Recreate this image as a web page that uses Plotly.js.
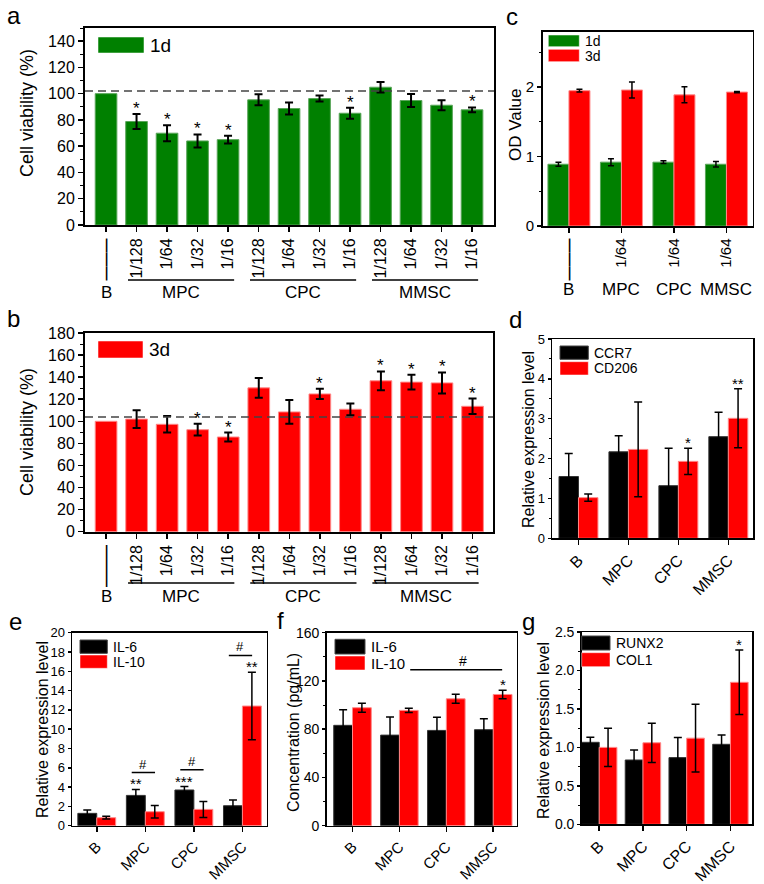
<!DOCTYPE html>
<html><head><meta charset="utf-8">
<script src="https://cdn.plot.ly/plotly-3.0.1.min.js"></script>
<style>html,body{margin:0;padding:0;background:#fff}#chart{width:764px;height:884px}</style>
</head><body><div id="chart"></div>
<script>
// ---------------- data ----------------
const doseCats = ['B','MPC 1/128','MPC 1/64','MPC 1/32','MPC 1/16','CPC 1/128','CPC 1/64','CPC 1/32','CPC 1/16','MMSC 1/128','MMSC 1/64','MMSC 1/32','MMSC 1/16'];
const doseTicks = ['———','1/128','1/64','1/32','1/16','1/128','1/64','1/32','1/16','1/128','1/64','1/32','1/16'];
const doseGroups = ['MPC','CPC','MMSC'];
const doseGroupIdx = [[1,4],[5,8],[9,12]];
const via1d    = [100,78.8,69.9,64,65,95.3,88.7,96.3,85.1,104.9,94.8,91.2,87.7];
const via1dErr = [null,5.7,6.1,5,3,4.2,4.6,2.3,4.2,4,5,3.8,1.8];
const via1dSig = ['','*','*','*','*','','','','*','','','','*'];
const via1dRef = 102;
const via3d    = [100,102,97.3,92.4,85.8,130.3,108.5,124.8,110.9,136.7,135.5,134.8,113.6];
const via3dErr = [null,8,7.5,5.3,4,9,10.7,4.7,5.3,8.5,6.7,9.5,7];
const via3dSig = ['','','','*','*','','','*','','*','*','*','*'];
const via3dRef = 104;

const cellCats = ['B','MPC','CPC','MMSC'];
const odTicks = ['———','1/64','1/64','1/64'];
const od1d = [0.89,0.92,0.92,0.89];
const od1dErr = [0.03,0.05,0.02,0.04];
const od3d = [1.95,1.96,1.89,1.93];
const od3dErr = [0.02,0.115,0.115,0.01];

const ccr7 = [1.55,2.17,1.32,2.55];
const ccr7Err = [0.58,0.4,0.94,0.61];
const cd206 = [1.02,2.23,1.93,3.01];
const cd206Err = [0.09,1.19,0.33,0.74];
const cd206Sig = ['','','*','**'];

const il6Gene = [1.28,3.14,3.7,2.07];
const il6GeneErr = [0.35,0.62,0.35,0.59];
const il6GeneSig = ['','**','***',''];
const il10Gene = [0.83,1.45,1.69,12.4];
const il10GeneErr = [0.14,0.64,0.83,3.49];
const il10GeneSig = ['','','','**'];
const geneHash = ['','#','#','#'];

const il6Conc = [83.2,75.1,79,79.6];
const il6ConcErr = [13,15,11,9];
const il10Conc = [97.8,95.6,105.2,108.8];
const il10ConcErr = [3.7,1.7,3.7,3.5];
const il10ConcSig = ['','','','*'];
const concHashSpan = ['MPC','MMSC'];

const runx2 = [1.066,0.836,0.867,1.04];
const runx2Err = [0.065,0.13,0.26,0.12];
const col1 = [1.0,1.06,1.12,1.846];
const col1Err = [0.25,0.255,0.44,0.42];
const col1Sig = ['','','','*'];

// ---------------- layout helpers ----------------
const W=764,H=884;
const fx=p=>p/W, fy=p=>1-p/H;
const FONT='"Liberation Sans", Arial, Helvetica, sans-serif';
const GREEN='#008000', RED='#ff0000', BLACK='#000000';
const layout={width:W,height:H,margin:{l:0,r:0,t:0,b:0},paper_bgcolor:'#fff',plot_bgcolor:'#fff',
  showlegend:false,barmode:'overlay',font:{family:FONT,color:'#000'},annotations:[],shapes:[]};
const data=[];
function ids(n){return {xa:n===1?'x':'x'+n, ya:n===1?'y':'y'+n, xs:n===1?'xaxis':'xaxis'+n, ys:n===1?'yaxis':'yaxis'+n};}
function axes(n,xpx,ypx,xo,yo,lw){
  const I=ids(n); lw=lw||1.5;
  layout[I.xs]=Object.assign({domain:[fx(xpx[0]),fx(xpx[1])],anchor:I.ya,type:'category',showline:true,mirror:true,
    linecolor:'#000',linewidth:lw,ticks:'outside',ticklen:5,tickwidth:1.5,tickcolor:'#000',showgrid:false,zeroline:false,
    fixedrange:true},xo);
  layout[I.ys]=Object.assign({domain:[fy(ypx[1]),fy(ypx[0])],anchor:I.xa,showline:true,mirror:true,linecolor:'#000',
    linewidth:lw,ticks:'outside',ticklen:5,tickwidth:1.5,tickcolor:'#000',showgrid:false,zeroline:false,fixedrange:true},yo);
  return I;
}
function A(x,y,text,size,o){layout.annotations.push(Object.assign({xref:'paper',yref:'paper',x:fx(x),y:fy(y),text:text,
  showarrow:false,font:{size:size,family:FONT,color:'#000'},xanchor:'center',yanchor:'middle'},o||{}));}
function legendBox(x0,y0,x1,y1,color,label,size){
  layout.shapes.push({type:'rect',xref:'paper',yref:'paper',x0:fx(x0),x1:fx(x1),y0:fy(y1),y1:fy(y0),fillcolor:color,
    line:{color:color==='#000000'?'#444':'rgba(255,255,255,0.5)',width:1}});
  A(x1+4,(y0+y1)/2,label,size,{xanchor:'left'});
}
function lineColor(c){return c===GREEN?'#5aa55a':(c===RED?'#ff8888':'#333');}
function bar(I,cats,vals,errs,color,width,offset,errW,capW){
  const t={type:'bar',x:cats,y:vals,xaxis:I.xa,yaxis:I.ya,width:width,marker:{color:color,line:{color:lineColor(color),width:1}},
    error_y:{type:'data',array:errs.map(v=>v==null?NaN:v),visible:true,color:'#000',thickness:errW||1.5,width:capW||4},hoverinfo:'skip'};
  if(offset!==undefined) t.offset=offset;
  data.push(t);
}
function stars(I,vals,errs,sig,dx,size,shift){
  sig.forEach((s,i)=>{ if(!s) return;
    layout.annotations.push({xref:I.xa,yref:I.ya,x:i+dx,y:vals[i]+(errs[i]||0),text:s,showarrow:false,yanchor:'bottom',
      yshift:shift,font:{size:size,family:FONT,color:'#000'}});});
}
const dashTick = t => t.startsWith('—') ? '<span style="font-size:14px;font-weight:bold">'+t+'</span>' : t;
const minorY = d => ({dtick:d,ticks:'outside',ticklen:2,tickcolor:'#000',tickwidth:1});

// ---------------- panel a ----------------
let I=axes(1,[85,494],[28,225],{range:[-0.69,12.72],tickmode:'array',tickvals:doseCats,ticktext:doseTicks.map(dashTick),tickangle:-90,
  tickfont:{size:16}},{range:[0,150],tickvals:[0,20,40,60,80,100,120,140],tickfont:{size:16},
  minor:{dtick:10,ticks:'outside',ticklen:3,tickcolor:'#000',tickwidth:1}},2);
bar(I,doseCats,via1d,via1dErr,GREEN,0.71,undefined,2,4);
stars(I,via1d,via1dErr,via1dSig,0,17,-6);
layout.shapes.push({type:'line',xref:'paper',yref:I.ya,x0:fx(85),x1:fx(494),y0:via1dRef,y1:via1dRef,line:{color:'#444',width:1.5,dash:'8px,5px'}});
legendBox(98,37,144,53,GREEN,'1d',19);

// ---------------- panel b ----------------
I=axes(2,[85,493],[333,531.7],{range:[-0.69,12.67],tickmode:'array',tickvals:doseCats,ticktext:doseTicks.map(dashTick),tickangle:-90,
  tickfont:{size:16}},{range:[0,180],tickvals:[0,20,40,60,80,100,120,140,160,180],tickfont:{size:16},
  minor:{dtick:10,ticks:'outside',ticklen:3,tickcolor:'#000',tickwidth:1}},2);
bar(I,doseCats,via3d,via3dErr,RED,0.71,undefined,2,4);
stars(I,via3d,via3dErr,via3dSig,0,17,-6);
layout.shapes.push({type:'line',xref:'paper',yref:I.ya,x0:fx(85),x1:fx(493),y0:via3dRef,y1:via3dRef,line:{color:'#444',width:1.5,dash:'8px,5px'}});
legendBox(98,341,143,358,RED,'3d',19);

// group labels under a and b
[[1,280,293],[2,583,596]].forEach(([n,ly,ty])=>{
  const J=ids(n);
  doseGroups.forEach((g,k)=>{
    const [i0,i1]=doseGroupIdx[k];
    layout.shapes.push({type:'line',xref:J.xa,yref:'paper',x0:i0-0.28,x1:i1+0.2,y0:fy(ly),y1:fy(ly),line:{color:'#000',width:1.5}});
    layout.annotations.push({xref:J.xa,yref:'paper',x:(i0+i1)/2-0.04,y:fy(ty),text:g,showarrow:false,yanchor:'middle',
      font:{size:17,family:FONT,color:'#000'}});
  });
  layout.annotations.push({xref:J.xa,yref:'paper',x:0,y:fy(ty),text:'B',showarrow:false,yanchor:'middle',font:{size:17,family:FONT,color:'#000'}});
});

// ---------------- panel c ----------------
I=axes(3,[542.7,752.7],[31.7,226],{range:[-0.5,3.5],tickmode:'array',tickvals:cellCats,ticktext:odTicks.map(dashTick),tickangle:-90,
  tickfont:{size:15}},{range:[0,2.8],tickvals:[0,1,2],tickfont:{size:15},ticklen:4,minor:minorY(0.5)});
bar(I,cellCats,od1d,od1dErr,GREEN,0.4,-0.4,1.5,3);
bar(I,cellCats,od3d,od3dErr,RED,0.4,0,1.5,3);
legendBox(548.3,35,579.3,46.7,GREEN,'1d',14);
legendBox(548.3,49.3,579.3,61.7,RED,'3d',14);
cellCats.forEach((c,i)=>layout.annotations.push({xref:I.xa,yref:'paper',x:i,y:fy(290),text:c,showarrow:false,yanchor:'middle',
  font:{size:17,family:FONT,color:'#000'}}));

// ---------------- panel d ----------------
I=axes(4,[552,753.3],[339,538.3],{range:[-0.53,3.5],tickangle:-45,tickfont:{size:16}},
  {range:[0,5],tickvals:[0,1,2,3,4,5],tickfont:{size:13},ticklen:3,minor:minorY(0.5)});
bar(I,cellCats,ccr7,ccr7Err,BLACK,0.39,-0.39,1.5,4);
bar(I,cellCats,cd206,cd206Err,RED,0.39,0,1.5,4);
stars(I,cd206,cd206Err,cd206Sig,0.195,15,-5);
legendBox(560,346,588.3,359.3,BLACK,'CCR7',14);
legendBox(560,361.7,588.3,375,RED,'CD206',14);

// ---------------- panel e ----------------
I=axes(5,[72,266.7],[632.7,825.7],{range:[-0.51,3.5],tickangle:-45,tickfont:{size:15}},
  {range:[0,20],dtick:2,tickfont:{size:13},ticklen:3});
bar(I,cellCats,il6Gene,il6GeneErr,BLACK,0.39,-0.39,1.5,4);
bar(I,cellCats,il10Gene,il10GeneErr,RED,0.39,0,1.5,4);
stars(I,il6Gene,il6GeneErr,il6GeneSig,-0.195,15,-5);
stars(I,il10Gene,il10GeneErr,il10GeneSig,0.195,15,-5);
geneHash.forEach((h,i)=>{ if(!h) return;
  const top=Math.max(il6Gene[i]+il6GeneErr[i],il10Gene[i]+il10GeneErr[i])+1.75;
  layout.shapes.push({type:'line',xref:I.xa,yref:I.ya,x0:i-0.28,x1:i+0.2,y0:top,y1:top,line:{color:'#000',width:1.5}});
  layout.annotations.push({xref:I.xa,yref:I.ya,x:i-0.04,y:top,text:h,showarrow:false,yanchor:'bottom',yshift:-1,font:{size:13,family:FONT,color:'#000'}});
});
legendBox(80,640,107.3,653.3,BLACK,'IL-6',14);
legendBox(80,655,107.3,668.3,RED,'IL-10',14);

// ---------------- panel f ----------------
I=axes(6,[326.7,516.7],[632.7,825.7],{range:[-0.55,3.5],tickangle:-45,tickfont:{size:15}},
  {range:[0,160],tickvals:[0,40,80,120,160],tickfont:{size:14},ticklen:3,minor:minorY(20)});
bar(I,cellCats,il6Conc,il6ConcErr,BLACK,0.4,-0.4,1.5,4);
bar(I,cellCats,il10Conc,il10ConcErr,RED,0.4,0,1.5,4);
stars(I,il10Conc,il10ConcErr,il10ConcSig,0.2,15,-5);
(function(){
  const i0=cellCats.indexOf(concHashSpan[0]), i1=cellCats.indexOf(concHashSpan[1]);
  let top=0; for(let i=i0;i<=i1;i++) top=Math.max(top,il6Conc[i]+il6ConcErr[i],il10Conc[i]+il10ConcErr[i]);
  top+=17;
  layout.shapes.push({type:'line',xref:I.xa,yref:I.ya,x0:i0+0.23,x1:i1+0.19,y0:top,y1:top,line:{color:'#000',width:1.5}});
  layout.annotations.push({xref:I.xa,yref:I.ya,x:(i0+i1)/2+0.35,y:top,text:'#',showarrow:false,yanchor:'bottom',yshift:-1,font:{size:14,family:FONT,color:'#000'}});
})();
legendBox(335,639.3,365,654,BLACK,'IL-6',15);
legendBox(335,656,365,670,RED,'IL-10',15);

// ---------------- panel g ----------------
I=axes(7,[581.7,752.3],[632,824.3],{range:[-0.4,3.5],tickangle:-45,tickfont:{size:16}},
  {range:[0,2.5],tickvals:[0,0.5,1,1.5,2,2.5],tickformat:'.1f',tickfont:{size:14},ticklen:3,minor:minorY(0.25)});
bar(I,cellCats,runx2,runx2Err,BLACK,0.405,-0.405,1.5,4);
bar(I,cellCats,col1,col1Err,RED,0.405,0,1.5,4);
stars(I,col1,col1Err,col1Sig,0.2025,15,-5);
legendBox(581.7,636,610,650,BLACK,'RUNX2',14);
legendBox(581.7,652.7,610,666.7,RED,'COL1',14);

// ---------------- titles & panel letters ----------------
A(27,113,'Cell viability (%)',18,{textangle:-90});
A(27,432,'Cell viability (%)',18,{textangle:-90});
A(516,125,'OD Value',17,{textangle:-90});
A(528,440,'Relative expression level',16,{textangle:-90});
A(42,730,'Relative expression level',16,{textangle:-90});
A(293,733,'Concentration (pg/mL)',16,{textangle:-90});
A(543,731,'Relative expression level',16,{textangle:-90});
A(14,15,'a',24); A(14,318,'b',24); A(512,16,'c',24); A(515,319,'d',24);
A(15,621,'e',24); A(280,620,'f',24); A(528,621,'g',24);

Plotly.newPlot('chart',data,layout,{staticPlot:true});
</script></body></html>
